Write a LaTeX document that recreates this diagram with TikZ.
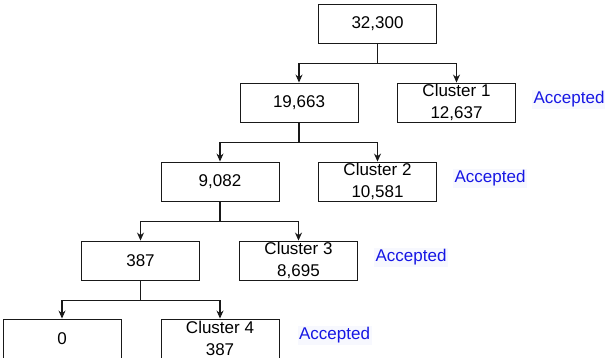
\documentclass[tikz,border=0pt]{standalone}
\usepackage{fontspec}
\setmainfont{Liberation Sans}
\usepackage{tikz}
\usetikzlibrary{arrows.meta, positioning}
\definecolor{accblue}{RGB}{22,22,228}
\definecolor{accback}{RGB}{247,248,254}
\tikzset{
  treebox/.style={draw=black!90, line width=0.9pt, fill=white, align=center,
    inner sep=0pt, minimum width=118pt, minimum height=39pt,
    font=\fontsize{17}{22}\selectfont},
  treearrow/.style={-{Stealth[length=8pt, width=7pt]}, line width=1.1pt, black!90},
  acclabel/.style={font=\fontsize{17}{20}\selectfont, text=accblue,
    fill=accback, inner sep=1.5pt, anchor=west, yshift=3pt},
}

\begin{document}
\begin{tikzpicture}[x=1pt, y=-1pt]
  \useasboundingbox (0,0) rectangle (605,358);
  % Stufen der Aufteilung
  \node[treebox] (top)   at (377.5,23.5)  {32,300};
  \node[treebox] (n19663) at (299,102.5)  {19,663};
  \node[treebox] (c1)    at (456.5,102.5) {Cluster 1\\12,637};
  \node[treebox] (n9082) at (220,181.5)   {9,082};
  \node[treebox] (c2)    at (377.5,181.5) {Cluster 2\\10,581};
  \node[treebox] (n387)  at (140.5,260.5) {387};
  \node[treebox] (c3)    at (298.5,260.5) {Cluster 3\\8,695};
  \node[treebox] (n0)    at (62,338.5)    {0};
  \node[treebox] (c4)    at (220,338.5)   {Cluster 4\\387};

  % Verbindungen: senkrecht, waagrecht, Pfeil nach unten
  \foreach \p/\a/\b in {top/n19663/c1, n19663/n9082/c2, n9082/n387/c3, n387/n0/c4}{
    \draw[treearrow] (\p.south) -- ++(0,20) -| (\a.north);
    \draw[treearrow] (\p.south) -- ++(0,20) -| (\b.north);
  }

  % Bewertung der Cluster
  \node[acclabel, right=16pt of c1] (acc1) {Accepted};
  \node[acclabel, right=16pt of c2] (acc2) {Accepted};
  \node[acclabel, right=16pt of c3] (acc3) {Accepted};
  \node[acclabel, right=18pt of c4] (acc4) {Accepted};
\end{tikzpicture}
\end{document}
